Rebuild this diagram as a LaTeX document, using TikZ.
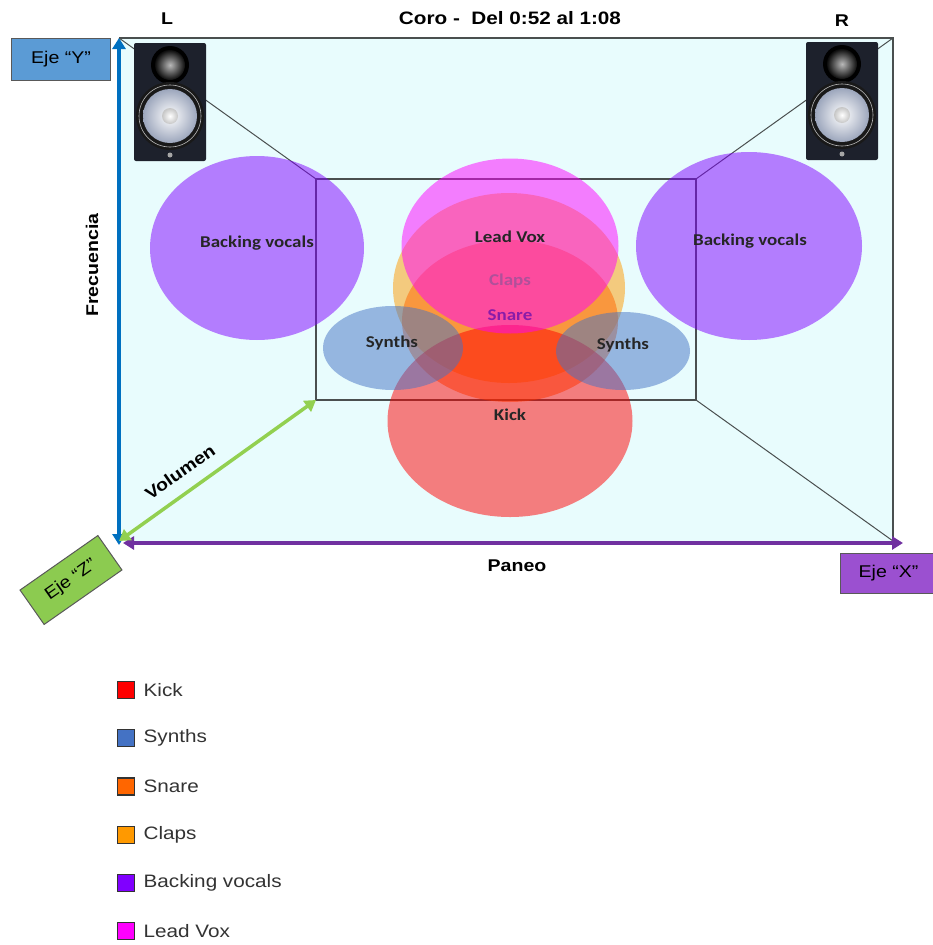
\documentclass[tikz,border=0pt]{standalone}
\usepackage{fontspec}
\setmainfont{Liberation Sans}[FakeStretch=1.15]
\newfontfamily\carlito{Carlito}[FakeStretch=1.15]
\usetikzlibrary{shapes.geometric,arrows.meta,positioning}
\definecolor{room}{HTML}{E8FCFD}
\definecolor{wall}{HTML}{4A4F4F}
\definecolor{ejeY}{HTML}{5B9BD5}
\definecolor{axY}{HTML}{0070C0}
\definecolor{ejeX}{HTML}{9B50D0}
\definecolor{axX}{HTML}{7030A0}
\definecolor{ejeZ}{HTML}{8CCB50}
\definecolor{axZ}{HTML}{92D050}
\definecolor{cKick}{HTML}{FF0000}
\definecolor{cSynth}{HTML}{4472C4}
\definecolor{cSnare}{HTML}{FF6600}
\definecolor{cClaps}{HTML}{FF9900}
\definecolor{cBack}{HTML}{8000FF}
\definecolor{cLead}{HTML}{FF00FF}
\definecolor{cab}{HTML}{1D212C}
\definecolor{cone}{HTML}{9CA6BC}
\definecolor{tClaps}{HTML}{B0509A}
\definecolor{tSnare}{HTML}{8A1CA8}
\tikzset{inst/.style={ellipse, inner sep=0pt, fill opacity=0.5}}
\tikzset{lbl/.style={font=\carlito\bfseries\fontsize{16.5}{18}\selectfont, text=black!85}}
\tikzset{eje/.style={draw=black!65, line width=1pt, inner sep=0pt, font=\fontsize{17}{19}\selectfont}}
\tikzset{key/.style={draw=black!80, line width=1.2pt, minimum size=17pt, inner sep=0pt}}
\tikzset{axis/.style={line width=3.5pt, {Triangle[length=11pt,width=13pt]}-{Triangle[length=11pt,width=13pt]}}}
\tikzset{big/.style={font=\bfseries\fontsize{17}{19}\selectfont}}
\tikzset{monitor/.pic={
    \fill[cab, rounded corners=2pt] (-36,-59) rectangle (36,59);
    \fill[black] (0,-37) circle (19pt);
    \shade[inner color=gray!55, outer color=black!95] (0,-37) circle (15pt);
    \fill[black!90] (0,14) circle (34pt);
    \draw[gray!55, line width=0.6pt] (0,14) circle (31pt);
    \shade[inner color=white, outer color=cone] (0,14) circle (27pt);
    \shade[inner color=white, outer color=gray!45] (0,14) circle (8pt);
    \fill[gray!70] (0,53) circle (2.5pt);
}}

\begin{document}
\begin{tikzpicture}[x=1pt,y=-1pt]
\useasboundingbox (0,0) rectangle (933,945);
% room corners and the back wall
\coordinate (tl) at (119,38);
\coordinate (tr) at (893,38);
\coordinate (br) at (893,541);
\coordinate (bl) at (119,541);
\coordinate (a) at (316,179);
\coordinate (b) at (696,179);
\coordinate (c) at (696,400);
\coordinate (d) at (316,400);
\fill[room] (tl) rectangle (br);
\draw[wall, line width=2pt] (tl) -- (tr) -- (br);
\draw[wall, line width=1pt] (tl) -- (a);
\draw[wall, line width=1pt] (tr) -- (b);
\draw[wall, line width=1pt] (c) -- (br);
\draw[wall, line width=2pt] (a) rectangle (c);

% instruments
\node[inst, fill=cBack, minimum width=214pt, minimum height=184pt] (backL) at (257,248) {};
\node[inst, fill=cBack, minimum width=226pt, minimum height=188pt] (backR) at (749,246) {};
\node[inst, fill=cClaps, minimum width=232pt, minimum height=190pt] (claps) at (509,288) {};
\node[inst, fill=cSnare, minimum width=216pt, minimum height=162pt] (snare) at (510,321) {};
\node[inst, fill=cKick, minimum width=245pt, minimum height=192pt] (kick) at (510,421) {};
\node[inst, fill=cLead, minimum width=217pt, minimum height=175pt] (lead) at (510,246) {};
\node[inst, fill=cSynth, minimum width=140pt, minimum height=84pt] (synL) at (393,348) {};
\node[inst, fill=cSynth, minimum width=134pt, minimum height=78pt] (synR) at (623,351) {};

\node[lbl] at (257,243) {Backing vocals};
\node[lbl] at (750,241) {Backing vocals};
\node[lbl] at (510,237) {Lead Vox};
\node[lbl, text=tClaps] at (510,281) {Claps};
\node[lbl, text=tSnare] at (510,315) {Snare};
\node[lbl] at (392,343) {Synths};
\node[lbl] at (623,345) {Synths};
\node[lbl] at (510,415) {Kick};

% monitors
\pic at (170,102) {monitor};
\pic at (842,101) {monitor};
\node[big] (L) at (167,19) {L};
\node[big] (R) at (842,21) {R};
\node[big, font=\bfseries\fontsize{18}{20}\selectfont] (title) at (510,18) {Coro -\ \ Del 0:52 al 1:08};

% axes
\coordinate (O) at (119,541);
\draw[axis, axY] ([yshift=-4pt]O) -- (tl);
\draw[axis, axX] ([xshift=4pt,yshift=-2pt]O) -- (903,543);
\draw[axis, axZ] (O) -- (d);
\node[eje, fill=ejeY, minimum width=99pt, minimum height=42pt] (ejey) at (61,59) {Eje “Y”};
\node[eje, fill=ejeX, minimum width=96pt, minimum height=40pt, anchor=west] (ejex) at (840,573) {Eje “X”};
\node[eje, fill=ejeZ, minimum width=95pt, minimum height=42pt, rotate=35] (ejez) at (71,580) {Eje “Z”};
\node[big, rotate=90] (frec) at (92,265) {Frecuencia};
\node[big, rotate=35] (vol) at (180,472) {Volumen};
\node[big] (pan) at (517,566) {Paneo};

% legend
\foreach \c/\t [count=\i from 0] in {cKick/Kick, cSynth/Synths, cSnare/Snare, cClaps/Claps, cBack/Backing vocals, cLead/Lead Vox} {
    \node[key, fill=\c] (k\i) at (126,{690+48.2*\i}) {};
    \node[right=5pt of k\i, font=\fontsize{18}{20}\selectfont, text=black!80] (t\i) {\t};
}
\end{tikzpicture}
\end{document}
